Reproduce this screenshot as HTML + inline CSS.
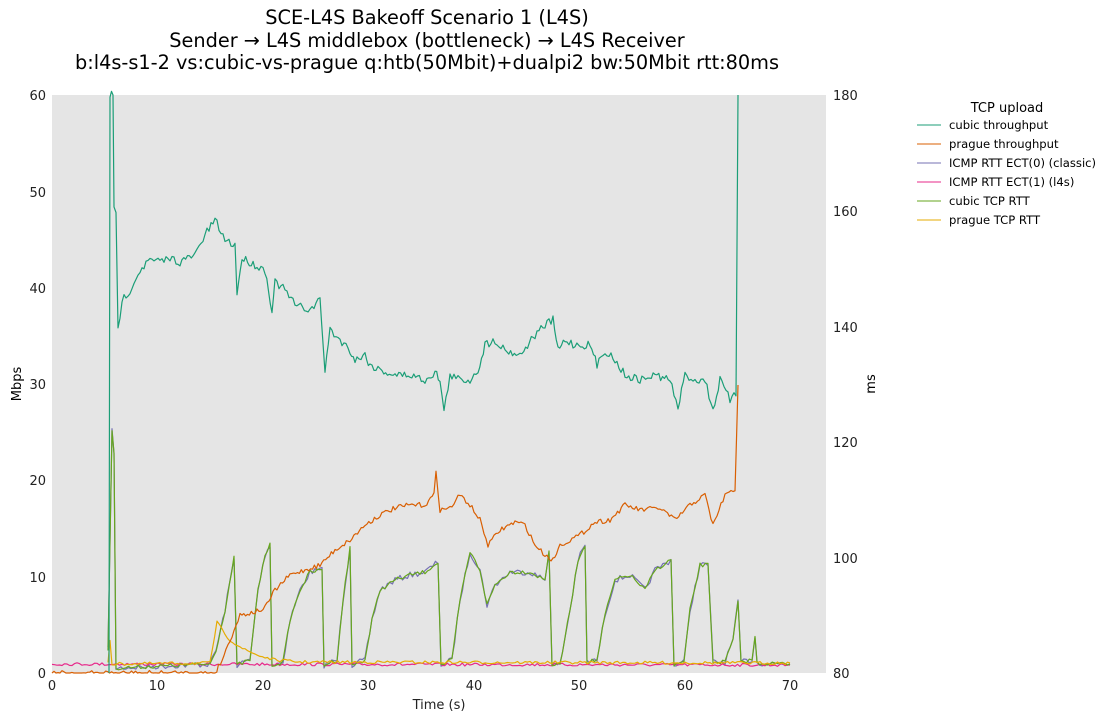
<!DOCTYPE html>
<html><head><meta charset="utf-8"><style>
body{margin:0;background:#fff;width:1111px;height:721px;overflow:hidden;font-family:"Liberation Sans","DejaVu Sans",sans-serif}
svg text{font-family:"DejaVu Sans","Liberation Sans",sans-serif}
</style></head><body>
<svg id="s" width="1111" height="721" xmlns="http://www.w3.org/2000/svg">
<text x="427" y="24" font-size="19.3" text-anchor="middle">SCE-L4S Bakeoff Scenario 1 (L4S)</text>
<text x="427" y="47" font-size="19.3" text-anchor="middle">Sender → L4S middlebox (bottleneck) → L4S Receiver</text>
<text x="427" y="69" font-size="19.3" text-anchor="middle">b:l4s-s1-2 vs:cubic-vs-prague q:htb(50Mbit)+dualpi2 bw:50Mbit rtt:80ms</text>
<rect x="52" y="95" width="774" height="578" fill="#e5e5e5"/>
<g font-size="13" text-anchor="end" fill="#222">
<text x="46" y="678">0</text><text x="46" y="582">10</text><text x="46" y="485">20</text><text x="46" y="389">30</text><text x="46" y="293">40</text><text x="46" y="197">50</text><text x="46" y="100">60</text>
</g>
<g font-size="13" fill="#222">
<text x="833" y="678">80</text><text x="833" y="563">100</text><text x="833" y="447">120</text><text x="833" y="332">140</text><text x="833" y="216">160</text><text x="833" y="100">180</text>
</g>
<g font-size="13" text-anchor="middle" fill="#222">
<text x="52" y="690">0</text><text x="157" y="690">10</text><text x="263" y="690">20</text><text x="368" y="690">30</text><text x="474" y="690">40</text><text x="579" y="690">50</text><text x="685" y="690">60</text><text x="790" y="690">70</text>
<text x="439" y="709">Time (s)</text>
</g>
<text font-size="13" transform="translate(21,384) rotate(-90)" text-anchor="middle">Mbps</text>
<text font-size="13" transform="translate(875,384) rotate(-90)" text-anchor="middle">ms</text>
<g id="series" fill="none" stroke-width="1.2" stroke-linejoin="round"></g>
<g font-size="11.6">
<text x="1007" y="112" text-anchor="middle" font-size="13">TCP upload</text>
<line x1="917" x2="941" y1="125" y2="125" stroke="#1b9e77"/><text x="949" y="129">cubic throughput</text>
<line x1="917" x2="941" y1="144" y2="144" stroke="#d95f02"/><text x="949" y="148">prague throughput</text>
<line x1="917" x2="941" y1="163" y2="163" stroke="#7570b3"/><text x="949" y="167">ICMP RTT ECT(0) (classic)</text>
<line x1="917" x2="941" y1="182" y2="182" stroke="#e7298a"/><text x="949" y="186">ICMP RTT ECT(1) (l4s)</text>
<line x1="917" x2="941" y1="201" y2="201" stroke="#66a61e"/><text x="949" y="205">cubic TCP RTT</text>
<line x1="917" x2="941" y1="220" y2="220" stroke="#e6ab02"/><text x="949" y="224">prague TCP RTT</text>
</g>
</svg>
<script>
var seed=7;function r(){seed=(seed*16807)%2147483647;return seed/2147483647-0.5;}
function gen(k,step,amp,clip){var p=[];for(var i=0;i<k.length-1;i++){var a=k[i],b=k[i+1];var n=Math.max(1,Math.round((b[0]-a[0])/step));for(var j=0;j<n;j++){var t=j/n;var y=a[1]+(b[1]-a[1])*t+(b[0]-a[0]>1?r()*amp:0);if(clip)y=Math.min(y,673);p.push((a[0]+(b[0]-a[0])*t).toFixed(1)+','+y.toFixed(1));}}var l=k[k.length-1];p.push(l[0]+','+l[1]);return p.join(' ');}
function add(pts,c){var e=document.createElementNS('http://www.w3.org/2000/svg','polyline');e.setAttribute('points',pts);e.setAttribute('stroke',c);document.getElementById('series').appendChild(e);}
var cubic=[[109,673],[110,95],[113,95],[114,210],[116,215],[118,330],[122,300],[130,290],[140,270],[150,260],[160,262],[170,258],[180,262],[195,255],[205,235],[215,220],[225,240],[235,245],[237,293],[242,258],[255,265],[265,270],[272,310],[275,282],[285,290],[295,305],[310,310],[320,300],[325,370],[330,330],[340,340],[350,350],[355,360],[365,355],[370,365],[380,370],[395,375],[410,375],[425,380],[435,372],[440,380],[444,412],[450,375],[460,380],[470,380],[478,370],[485,345],[495,340],[505,350],[520,355],[535,335],[545,325],[553,320],[558,350],[565,340],[575,345],[590,345],[597,365],[605,350],[615,360],[625,375],[640,380],[655,375],[670,380],[678,408],[685,375],[695,380],[705,380],[713,410],[720,380],[730,400],[736,395],[738,95]];
var prague=[[52,673],[215,673],[222,660],[230,640],[240,615],[255,612],[265,608],[275,590],[290,575],[305,570],[320,565],[335,550],[350,540],[365,525],[380,515],[395,508],[410,505],[425,505],[434,495],[436,470],[440,510],[450,508],[460,495],[470,505],[480,520],[488,545],[500,530],[515,522],[525,525],[535,545],[545,555],[553,560],[560,545],[570,540],[580,535],[595,522],[610,520],[625,505],[640,510],[660,508],[675,520],[690,505],[705,495],[713,525],[725,495],[735,490],[738,385]];
var ct=[[108,650],[112,430],[114,455],[116,668],[210,664],[216,650],[225,610],[234,558],[237,665],[250,660],[258,590],[265,555],[270,545],[272,665],[283,662],[290,620],[300,590],[310,572],[322,570],[324,665],[337,660],[343,600],[350,548],[352,665],[365,660],[372,620],[380,590],[395,580],[410,575],[425,572],[438,562],[441,665],[452,660],[460,600],[470,552],[480,570],[487,605],[495,585],[510,572],[530,572],[545,580],[549,550],[552,665],[560,665],[570,610],[578,560],[585,545],[587,662],[597,660],[605,615],[615,580],[630,575],[645,590],[655,570],[671,560],[674,665],[684,662],[690,610],[700,565],[708,565],[713,662],[725,662],[733,640],[738,603],[741,662],[752,660],[755,636],[757,663],[790,664]];
var pt=[[108,662],[110,640],[112,664],[210,663],[217,622],[222,630],[230,640],[245,650],[260,656],[275,660],[300,662],[790,663]];
var il=[[52,664],[790,665]];
add(gen(ct,2.5,6,true),'#7570b3');
add(gen(il,2.5,3,true),'#e7298a');
add(gen(ct,2.5,4,true),'#66a61e');
add(gen(pt,2.5,3,true),'#e6ab02');
add(gen(prague,2,5,true),'#d95f02');
add(gen(cubic,2,8,true),'#1b9e77');
</script>
</body></html>
